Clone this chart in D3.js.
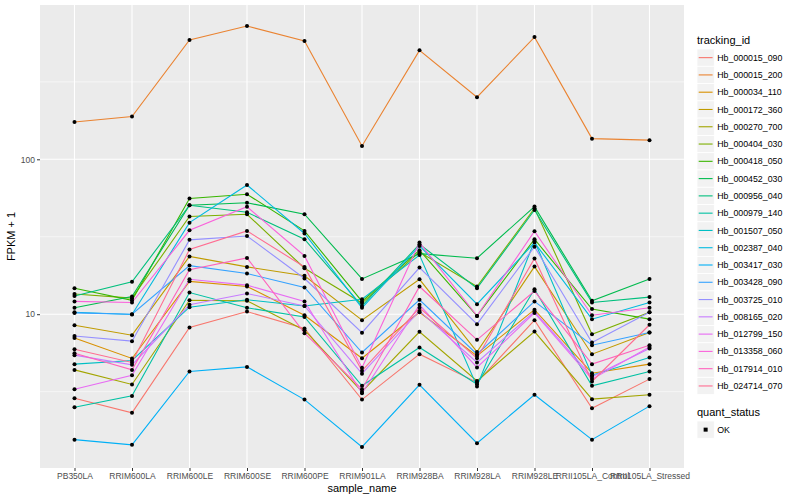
<!DOCTYPE html>
<html>
<head>
<meta charset="utf-8">
<script src="https://cdn.jsdelivr.net/npm/d3@7"></script>
<style>
  body { margin: 0; background: #fff; }
  text { font-family: "Liberation Sans", Arial, Helvetica, sans-serif; }
</style>
</head>
<body>
<svg id="chart" width="800" height="500"></svg>
<script>
const samples = ["PB350LA","RRIM600LA","RRIM600LE","RRIM600SE","RRIM600PE","RRIM901LA","RRIM928BA","RRIM928LA","RRIM928LE","RRII105LA_Control","RRII105LA_Stressed"];

const trackingIds = ["Hb_000015_090","Hb_000015_200","Hb_000034_110","Hb_000172_360","Hb_000270_700","Hb_000404_030","Hb_000418_050","Hb_000452_030","Hb_000956_040","Hb_000979_140","Hb_001507_050","Hb_002387_040","Hb_003417_030","Hb_003428_090","Hb_003725_010","Hb_008165_020","Hb_012799_150","Hb_013358_060","Hb_017914_010","Hb_024714_070"];

const colors = ["#F8766D","#EA8331","#D89000","#C09B00","#A3A500","#7CAE00","#39B600","#00BB4E","#00BF7D","#00C1A3","#00BFC4","#00BAE0","#00B0F6","#35A2FF","#9590FF","#C77CFF","#E76BF3","#FA62DB","#FF62BC","#FF6C91"];

// FPKM + 1 values per tracking id, in sample order
const Hb_000015_090 = [2.87, 2.31, 8.21, 10.4, 8.09, 2.81, 5.52, 3.63, 9.15, 2.47, 3.81];
const Hb_000015_200 = [174, 189, 589, 725, 580, 122, 505, 252, 615, 136, 133];
const Hb_000034_110 = [7.03, 5.18, 16.3, 15.1, 9.85, 5.20, 10.3, 5.38, 10.7, 4.16, 4.76];
const Hb_000172_360 = [8.49, 7.32, 23.6, 20.2, 17.7, 9.15, 16.8, 5.71, 20.3, 5.52, 7.62];
const Hb_000270_700 = [4.37, 3.52, 12.3, 12.2, 7.88, 3.16, 7.70, 3.71, 7.73, 2.83, 3.02];
const Hb_000404_030 = [13.5, 12.7, 42.7, 44.2, 19.8, 11.8, 25.2, 15.1, 48.3, 7.43, 10.3];
const Hb_000418_050 = [14.7, 12.3, 55.8, 59.5, 34.5, 12.1, 25.9, 9.75, 30.5, 10.8, 9.29];
const Hb_000452_030 = [11.0, 13.0, 50.5, 52.4, 44.2, 16.9, 24.6, 23.0, 49.5, 12.2, 16.9];
const Hb_000956_040 = [13.1, 16.2, 50.5, 45.5, 30.5, 11.3, 28.3, 14.7, 47.1, 11.9, 12.9];
const Hb_000979_140 = [2.51, 2.97, 13.8, 11.0, 9.6, 3.45, 6.10, 3.53, 14.5, 3.45, 4.27];
const Hb_001507_050 = [4.76, 5.03, 11.1, 12.4, 11.3, 12.5, 24.1, 3.42, 29.7, 4.04, 5.26];
const Hb_002387_040 = [10.3, 9.95, 39.0, 68.3, 33.2, 11.0, 27.6, 11.6, 29.0, 9.29, 11.9];
const Hb_003417_030 = [1.55, 1.435, 4.27, 4.57, 2.81, 1.39, 3.50, 1.47, 3.02, 1.55, 2.55];
const Hb_003428_090 = [10.2, 10.0, 20.6, 18.3, 14.9, 5.66, 12.4, 5.52, 12.1, 6.31, 7.62];
const Hb_003725_010 = [7.24, 6.70, 30.2, 32.0, 17.0, 7.60, 20.0, 8.62, 27.3, 6.57, 10.3];
const Hb_008165_020 = [5.44, 4.71, 11.5, 13.6, 11.3, 4.13, 10.5, 4.88, 10.4, 3.94, 6.00];
const Hb_012799_150 = [3.28, 4.04, 16.8, 15.4, 12.1, 3.09, 11.5, 4.53, 10.2, 3.81, 6.15];
const Hb_013358_060 = [12.1, 11.9, 34.8, 49.4, 23.8, 4.52, 29.0, 9.75, 34.3, 9.85, 11.0];
const Hb_017914_010 = [5.60, 4.37, 19.4, 23.1, 7.54, 3.28, 15.1, 6.83, 14.1, 4.76, 6.31];
const Hb_024714_070 = [5.94, 4.88, 26.2, 34.5, 20.2, 4.31, 11.0, 5.20, 22.9, 3.68, 8.55];

const seriesValues = [Hb_000015_090, Hb_000015_200, Hb_000034_110, Hb_000172_360, Hb_000270_700, Hb_000404_030, Hb_000418_050, Hb_000452_030, Hb_000956_040, Hb_000979_140, Hb_001507_050, Hb_002387_040, Hb_003417_030, Hb_003428_090, Hb_003725_010, Hb_008165_020, Hb_012799_150, Hb_013358_060, Hb_017914_010, Hb_024714_070];

const yTickValues = [10, 100];
const yTickLabels = ["10", "100"];
const quantStatus = ["OK"];

const series = trackingIds.map((id, i) => ({
  id, color: colors[i],
  points: samples.map((s, j) => ({ sample: s, value: seriesValues[i][j] }))
}));

const svg = d3.select("#chart");
const panel = { left: 40, right: 684, top: 5, bottom: 468 };

const x = d3.scalePoint().domain(samples).range([panel.left, panel.right]).padding(0.6);

const allVals = seriesValues.flat();
const lmin = Math.log10(d3.min(allVals)), lmax = Math.log10(d3.max(allVals));
const ex = (lmax - lmin) * 0.05;
const y = d3.scaleLog().domain([Math.pow(10, lmin - ex), Math.pow(10, lmax + ex)]).range([panel.bottom, panel.top]);

// panel background
svg.append("rect").attr("x", panel.left).attr("y", panel.top)
  .attr("width", panel.right - panel.left).attr("height", panel.bottom - panel.top)
  .attr("fill", "#EBEBEB");

const g = svg.append("g");
// minor grid (half decades)
const minor = [Math.pow(10, 0.5), Math.pow(10, 1.5), Math.pow(10, 2.5)];
g.selectAll(".minor").data(minor).enter().append("line")
  .attr("x1", panel.left).attr("x2", panel.right)
  .attr("y1", d => y(d)).attr("y2", d => y(d))
  .attr("stroke", "#fff").attr("stroke-width", 0.55);
// major grid
g.selectAll(".majorY").data(yTickValues).enter().append("line")
  .attr("x1", panel.left).attr("x2", panel.right)
  .attr("y1", d => y(d)).attr("y2", d => y(d))
  .attr("stroke", "#fff").attr("stroke-width", 1.1);
g.selectAll(".majorX").data(samples).enter().append("line")
  .attr("x1", d => x(d)).attr("x2", d => x(d))
  .attr("y1", panel.top).attr("y2", panel.bottom)
  .attr("stroke", "#fff").attr("stroke-width", 1.1);

// lines
const line = d3.line().x(d => x(d.sample)).y(d => y(d.value));
svg.append("g").selectAll("path").data(series).enter().append("path")
  .attr("d", d => line(d.points))
  .attr("fill", "none").attr("stroke", d => d.color).attr("stroke-width", 1.1);

// points
svg.append("g").selectAll("g").data(series).enter().append("g")
  .selectAll("circle").data(d => d.points).enter().append("circle")
  .attr("cx", d => x(d.sample)).attr("cy", d => y(d.value)).attr("r", 2)
  .attr("fill", "#000");

// axes
const xAxis = d3.axisBottom(x).tickSizeOuter(0).tickSizeInner(3).tickPadding(2);
const xa = svg.append("g").attr("transform", `translate(0,${panel.bottom})`).call(xAxis);
const yAxis = d3.axisLeft(y).tickValues(yTickValues).tickFormat((d, i) => yTickLabels[i]).tickSizeOuter(0).tickSizeInner(3).tickPadding(2);
const ya = svg.append("g").attr("transform", `translate(${panel.left},0)`).call(yAxis);
[xa, ya].forEach(a => {
  a.select(".domain").remove();
  a.selectAll(".tick line").attr("stroke", "#333").attr("stroke-width", 1);
  a.selectAll(".tick text").attr("fill", "#4D4D4D").style("font-size", "8.5px");
});

// axis titles
svg.append("text").attr("x", (panel.left + panel.right) / 2).attr("y", 492)
  .attr("text-anchor", "middle").style("font-size", "11px").attr("fill", "#000").text("sample_name");
svg.append("text").attr("transform", `translate(15,${(panel.top + panel.bottom) / 2}) rotate(-90)`)
  .attr("text-anchor", "middle").style("font-size", "11px").attr("fill", "#000").text("FPKM + 1");

// legend: tracking_id
const lx = 697, keyH = 17.28, firstKey = 49;
svg.append("text").attr("x", lx).attr("y", 44).style("font-size", "11px").attr("fill", "#000").text("tracking_id");
const leg = svg.append("g").selectAll("g").data(series).enter().append("g")
  .attr("transform", (d, i) => `translate(${lx},${firstKey + i * keyH})`);
leg.append("rect").attr("width", keyH).attr("height", keyH).attr("fill", "#F2F2F2").attr("stroke", "#fff").attr("stroke-width", 0.8);
leg.append("line").attr("x1", 1.7).attr("x2", keyH - 1.7).attr("y1", keyH / 2).attr("y2", keyH / 2)
  .attr("stroke", d => d.color).attr("stroke-width", 1.1);
leg.append("text").attr("x", keyH + 3).attr("y", keyH / 2).attr("dy", "0.35em")
  .style("font-size", "8.8px").attr("fill", "#000").text(d => d.id);

// legend: quant_status
svg.append("text").attr("x", lx).attr("y", 416).style("font-size", "11px").attr("fill", "#000").text("quant_status");
const ql = svg.append("g").selectAll("g").data(quantStatus).enter().append("g")
  .attr("transform", (d, i) => `translate(${lx},${421 + i * keyH})`);
ql.append("rect").attr("width", keyH).attr("height", keyH).attr("fill", "#F2F2F2").attr("stroke", "#fff").attr("stroke-width", 0.8);
ql.append("rect").attr("x", keyH / 2 - 2).attr("y", keyH / 2 - 2).attr("width", 4).attr("height", 4).attr("fill", "#000");
ql.append("text").attr("x", keyH + 3).attr("y", keyH / 2).attr("dy", "0.35em")
  .style("font-size", "8.8px").attr("fill", "#000").text(d => d);
</script>
</body>
</html>
